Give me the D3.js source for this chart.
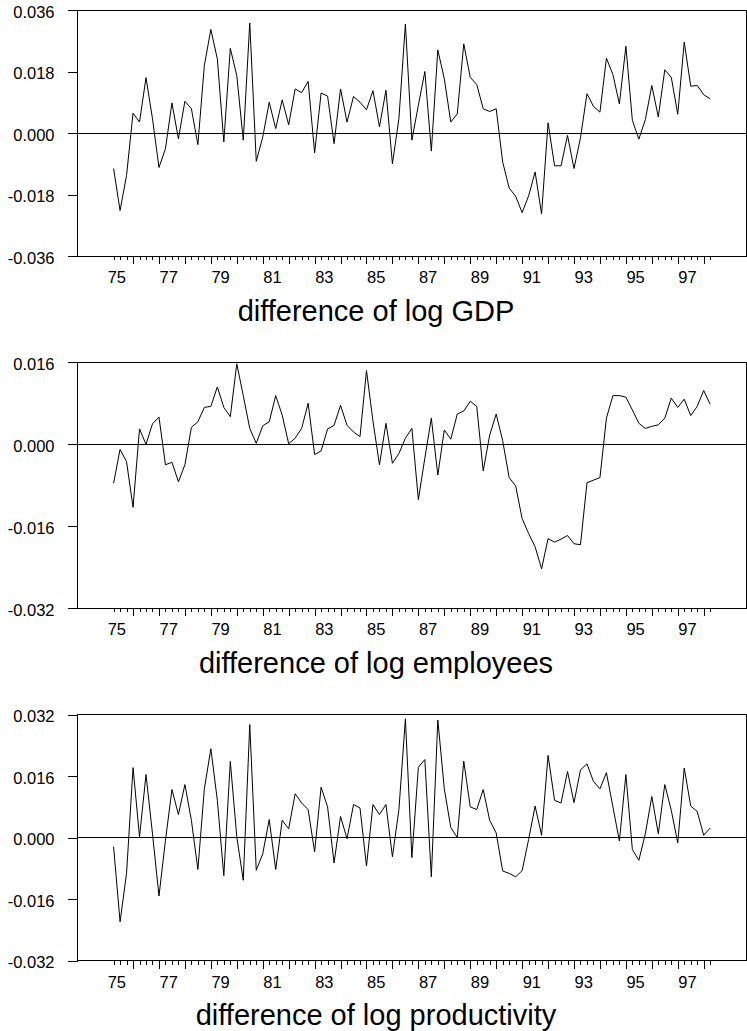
<!DOCTYPE html>
<html lang="en">
<head>
<meta charset="UTF-8">
<title>Differences of log series</title>
<style>
  body { margin: 0; background: #fff; }
  svg { display: block; font-family: "Liberation Sans", Arial, sans-serif; }
  .axis path.domain { display: none; }
  .axis line { stroke: #000; shape-rendering: crispEdges; }
  .axis text { fill: #000; font-size: 16.5px; }
</style>
</head>
<body>
<div id="chart"></div>
<script src="https://d3js.org/d3.v7.min.js"></script>
<script>
// quarterly series, first point 1975Q2, last 1998Q2
const firstQuarter = 1975.25;

const gdp = [
  -0.0104, -0.0227, -0.0124, 0.0058, 0.0032, 0.0162, 0.0042, -0.0101, -0.0046, 0.0088,
  -0.0017, 0.0093, 0.0071, -0.0034, 0.0198, 0.0303, 0.0217, -0.0026, 0.0248, 0.0168,
  -0.0021, 0.0322, -0.0083, -0.0012, 0.0090, 0.0013, 0.0097, 0.0024, 0.0129, 0.0118,
  0.0151, -0.0058, 0.0117, 0.0108, -0.0031, 0.0129, 0.0032, 0.0107, 0.0090, 0.0068,
  0.0124, 0.0018, 0.0125, -0.0090, 0.0042, 0.0319, -0.0021, 0.0081, 0.0180, -0.0053,
  0.0243, 0.0159, 0.0032, 0.0056, 0.0261, 0.0163, 0.0142, 0.0071, 0.0063, 0.0071,
  -0.0085, -0.0161, -0.0185, -0.0233, -0.0184, -0.0114, -0.0237, 0.0030, -0.0096, -0.0096,
  -0.0007, -0.0104, -0.0014, 0.0115, 0.0078, 0.0061, 0.0219, 0.0171, 0.0085, 0.0254,
  0.0037, -0.0018, 0.0039, 0.0139, 0.0047, 0.0185, 0.0163, 0.0055, 0.0266, 0.0137,
  0.0139, 0.0112, 0.0100
];

const employees = [
  -0.0076, -0.0010, -0.0034, -0.0123, 0.0030, 0.0000, 0.0040, 0.0053, -0.0040, -0.0035,
  -0.0073, -0.0040, 0.0033, 0.0044, 0.0072, 0.0074, 0.0112, 0.0072, 0.0054, 0.0157,
  0.0095, 0.0031, 0.0002, 0.0036, 0.0044, 0.0095, 0.0057, 0.0001, 0.0012, 0.0031,
  0.0080, -0.0020, -0.0013, 0.0030, 0.0037, 0.0076, 0.0037, 0.0024, 0.0015, 0.0144,
  0.0045, -0.0040, 0.0041, -0.0037, -0.0018, 0.0012, 0.0031, -0.0108, -0.0027, 0.0051,
  -0.0060, 0.0028, 0.0010, 0.0059, 0.0065, 0.0084, 0.0074, -0.0052, 0.0018, 0.0059,
  0.0007, -0.0065, -0.0081, -0.0145, -0.0174, -0.0200, -0.0243, -0.0184, -0.0191, -0.0185,
  -0.0178, -0.0194, -0.0196, -0.0075, -0.0070, -0.0065, 0.0051, 0.0095, 0.0095, 0.0092,
  0.0067, 0.0041, 0.0031, 0.0035, 0.0038, 0.0051, 0.0090, 0.0072, 0.0088, 0.0056,
  0.0074, 0.0105, 0.0078
];

const productivity = [
  -0.0024, -0.0219, -0.0093, 0.0182, 0.0002, 0.0164, 0.0010, -0.0152, -0.0007, 0.0125,
  0.0060, 0.0138, 0.0045, -0.0083, 0.0127, 0.0231, 0.0097, -0.0099, 0.0198, 0.0002,
  -0.0111, 0.0294, -0.0085, -0.0042, 0.0047, -0.0083, 0.0045, 0.0023, 0.0114, 0.0090,
  0.0073, -0.0037, 0.0131, 0.0080, -0.0066, 0.0055, -0.0003, 0.0086, 0.0077, -0.0074,
  0.0086, 0.0060, 0.0086, -0.0050, 0.0073, 0.0309, -0.0052, 0.0183, 0.0203, -0.0102,
  0.0306, 0.0127, 0.0026, 0.0000, 0.0199, 0.0080, 0.0073, 0.0125, 0.0045, 0.0012,
  -0.0087, -0.0093, -0.0102, -0.0086, -0.0005, 0.0082, 0.0006, 0.0214, 0.0097, 0.0090,
  0.0172, 0.0091, 0.0176, 0.0192, 0.0146, 0.0127, 0.0169, 0.0080, -0.0009, 0.0164,
  -0.0031, -0.0059, 0.0010, 0.0107, 0.0010, 0.0138, 0.0071, -0.0014, 0.0181, 0.0082,
  0.0068, 0.0006, 0.0025
];

const yearLabels = ["75", "77", "79", "81", "83", "85", "87", "89", "91", "93", "95", "97"];
const gdpTicks = [0.036, 0.018, 0, -0.018, -0.036];
const employeesTicks = [0.016, 0, -0.016, -0.032];
const productivityTicks = [0.032, 0.016, 0, -0.016, -0.032];
const titles = ["difference of log GDP", "difference of log employees", "difference of log productivity"];

const width = 747;
const height = 1031;
const left = 77.5;
const right = 746.5;
const panelHeight = 246;
const panelTops = [10, 362.3, 714.6];

const panels = [
  {values: gdp, domain: [-0.036, 0.036], ticks: gdpTicks, title: titles[0]},
  {values: employees, domain: [-0.032, 0.016], ticks: employeesTicks, title: titles[1]},
  {values: productivity, domain: [-0.032, 0.032], ticks: productivityTicks, title: titles[2]}
];

const svg = d3.select("#chart").append("svg")
    .attr("width", width)
    .attr("height", height);

// years on x, 1975.0 sits at the first long tick before the data
const x = d3.scaleLinear().domain([1975, 1998]).range([107.1, 703.7]);
const quarters = d3.range(gdp.length).map(i => firstQuarter + i / 4);
const fmt = d => d3.format(".3f")(d).replace("\u2212", "-");

panels.forEach((p, k) => {
  const top = panelTops[k];
  const bottom = top + panelHeight;
  const y = d3.scaleLinear().domain(p.domain).range([bottom, top]);
  const g = svg.append("g");

  // frame
  g.append("rect")
      .attr("x", left)
      .attr("y", top)
      .attr("width", right - left)
      .attr("height", panelHeight)
      .attr("fill", "none")
      .attr("stroke", "#000")
      .attr("shape-rendering", "crispEdges");

  // zero line
  g.append("line")
      .attr("x1", left)
      .attr("x2", right)
      .attr("y1", y(0))
      .attr("y2", y(0))
      .attr("stroke", "#000")
      .attr("shape-rendering", "crispEdges");

  g.append("g")
      .attr("class", "axis")
      .attr("transform", `translate(${left},0)`)
      .call(d3.axisLeft(y).tickValues(p.ticks).tickSize(10).tickPadding(13).tickFormat(fmt))
      .selectAll("text").attr("dy", "0.44em");

  const xAxis = g.append("g")
      .attr("class", "axis")
      .attr("transform", `translate(0,${bottom})`)
      .call(d3.axisBottom(x).tickValues(quarters).tickSize(4).tickSizeOuter(0).tickFormat(""));
  xAxis.selectAll(".tick line")
      .filter(d => Math.abs(d - Math.round(d)) < 1e-6)
      .attr("y2", 8);

  g.append("g")
      .selectAll("text")
      .data(yearLabels)
      .join("text")
      .attr("x", d => x(1900 + (+d) + 0.375))
      .attr("y", bottom + 27)
      .attr("text-anchor", "middle")
      .style("font-size", "16.5px")
      .text(d => d);

  g.append("path")
      .datum(p.values)
      .attr("fill", "none")
      .attr("stroke", "#000")
      .attr("stroke-width", 1)
      .attr("d", d3.line().x((d, i) => x(quarters[i])).y(d => y(d)));

  g.append("text")
      .attr("x", 376)
      .attr("y", bottom + 64.7)
      .attr("text-anchor", "middle")
      .style("font-size", "29px")
      .text(p.title);
});
</script>
</body>
</html>
